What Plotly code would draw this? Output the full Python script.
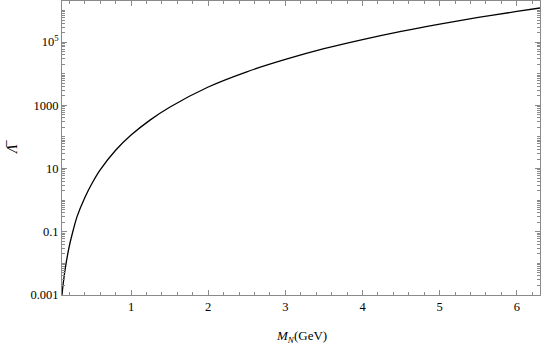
import plotly.graph_objects as go

# values
mass_gev = [0.105, 0.12, 0.15, 0.2, 0.25, 0.3, 0.4, 0.5, 0.6, 0.8, 1.0, 1.25,
            1.5, 2.0, 2.5, 3.0, 3.5, 4.0, 4.5, 5.0, 5.5, 6.0, 6.3]
lambda_bar = [0.001, 0.00224, 0.00759, 0.0355, 0.112, 0.302, 1.20, 3.63, 9.12,
              38.0, 115, 347, 871, 3800, 11500, 28200, 61700, 120000, 219000,
              372000, 603000, 933000, 1.2e6]

y_major = [1e-3, 1e-1, 1e1, 1e3, 1e5]
y_major_text = ["0.001", "0.1", "10", "1000", "10<sup>5</sup>"]
x_major = [1, 2, 3, 4, 5, 6]

y_minor = [k * 10.0 ** n for n in range(-3, 7) for k in range(1, 10)
           if k * 10.0 ** n not in y_major and k * 10.0 ** n < 2.1e6]
x_minor = [round(0.2 * i, 1) for i in range(1, 32) if round(0.2 * i, 1) not in x_major]

serif = "Liberation Serif, DejaVu Serif, serif"
font = dict(family=serif, size=12.5, color="black")
axcol = "#8a8a8a"

fig = go.Figure()
fig.add_trace(go.Scatter(
    x=mass_gev, y=lambda_bar, mode="lines", line_shape="spline",
    line=dict(color="black", width=1.3), showlegend=False,
))

fig.update_xaxes(
    range=[0.105, 6.3], showgrid=False, zeroline=False, automargin=False,
    showline=True, linecolor=axcol, linewidth=1, mirror="allticks",
    ticks="inside", ticklen=5, tickcolor=axcol, tickwidth=1,
    tickmode="array", tickvals=x_major, ticktext=[str(v) for v in x_major],
    minor=dict(tickmode="array", tickvals=x_minor, ticks="inside", ticklen=3,
               tickcolor=axcol, tickwidth=1, showgrid=False),
    tickfont=font,
)
fig.update_yaxes(
    type="log", range=[-3, 6.3], showgrid=False, zeroline=False, automargin=False,
    showline=True, linecolor=axcol, linewidth=1, mirror="allticks",
    ticks="inside", ticklen=5, tickcolor=axcol, tickwidth=1,
    tickmode="array", tickvals=y_major, ticktext=y_major_text,
    minor=dict(tickmode="array", tickvals=y_minor, ticks="inside", ticklen=3,
               tickcolor=axcol, tickwidth=1, showgrid=False),
    tickfont=font,
)

# axis titles placed by hand, as in the original frame plot
fig.add_annotation(
    text="<i>M<sub>N</sub></i>(GeV)", xref="paper", yref="paper", x=0.5, y=0,
    xanchor="center", yanchor="middle", yshift=-41, showarrow=False,
    font=dict(family=serif, size=13, color="black"),
)
fig.add_annotation(
    text="<i>\u039b\u0305</i>", xref="paper", yref="paper", x=0, y=0.5,
    xanchor="center", yanchor="middle", xshift=-50, textangle=-90, showarrow=False,
    font=dict(family=serif, size=14, color="black"),
)

fig.update_layout(
    width=545, height=344,
    margin=dict(l=62, r=5, t=1, b=49),
    plot_bgcolor="white", paper_bgcolor="white",
)

# drop the browser's default page margin so the figure sits at the corner
fig.write_html("out.html", config={"displayModeBar": False},
               post_script="document.body.style.margin='0';")
